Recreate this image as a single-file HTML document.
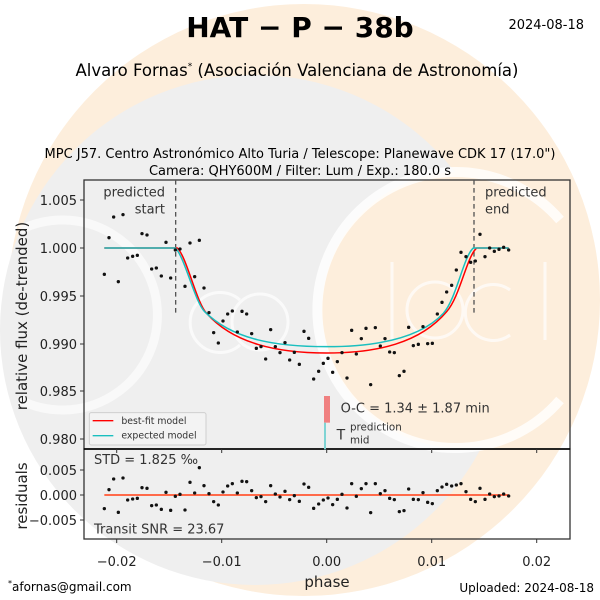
<!DOCTYPE html>
<html><head><meta charset="utf-8"><style>
body{margin:0;background:#fff}
svg{display:block;font-family:"DejaVu Sans","Liberation Sans",sans-serif}
</style></head><body>
<svg width="600" height="600" viewBox="0 0 600 600" xmlns="http://www.w3.org/2000/svg">
<rect width="600" height="600" fill="#fff"/>
<circle cx="304" cy="300" r="296" fill="#fdeedc"/>
<circle cx="255" cy="330" r="255" fill="#efefef"/>
<circle cx="460" cy="310" r="138" fill="#fdeedc"/>
<path d="M560 220 A138 138 0 1 0 560 400" fill="none" stroke="#fff" stroke-width="10" opacity="0.8"/>
<path d="M20 230 A95 95 0 1 1 20 400" fill="none" stroke="#fff" stroke-width="9" opacity="0.6"/>
<g fill="none" stroke="#fff" stroke-width="3" opacity="0.7">
<path d="M240 300 A30 30 0 1 0 240 345"/><circle cx="260" cy="322" r="28"/><path d="M392 262 V340"/><circle cx="435" cy="310" r="28"/><path d="M510 290 A28 28 0 1 0 510 335"/><path d="M545 262 V340"/>
</g>
<!-- titles -->
<text x="300" y="37" text-anchor="middle" font-size="28" font-weight="bold">HAT − P − 38b</text>
<text x="584" y="29" text-anchor="end" font-size="13">2024-08-18</text>
<text x="297" y="76" text-anchor="middle" font-size="16.5">Alvaro Fornas<tspan font-size="9" dy="-7">*</tspan><tspan dy="7">  (Asociación Valenciana de Astronomía)</tspan></text>
<text x="300" y="158" text-anchor="middle" font-size="13">MPC J57. Centro Astronómico Alto Turia / Telescope: Planewave CDK 17 (17.0")</text>
<text x="300" y="175" text-anchor="middle" font-size="13">Camera: QHY600M / Filter: Lum / Exp.: 180.0 s</text>
<!-- axes -->
<g stroke="#333" stroke-width="1.3" fill="none">
<rect x="84" y="180" width="486" height="269"/>
<rect x="84" y="449" width="486" height="90"/>
</g>
<line x1="84" y1="449" x2="570" y2="449" stroke="#000" stroke-width="1.6"/>
<g stroke="#333" stroke-width="1">
<line x1="80" y1="200" x2="84" y2="200"/><line x1="80" y1="248" x2="84" y2="248"/><line x1="80" y1="296" x2="84" y2="296"/><line x1="80" y1="344" x2="84" y2="344"/><line x1="80" y1="391" x2="84" y2="391"/><line x1="80" y1="439" x2="84" y2="439"/>
<line x1="80" y1="470" x2="84" y2="470"/><line x1="80" y1="495" x2="84" y2="495"/><line x1="80" y1="520" x2="84" y2="520"/>
<line x1="116.7" y1="539" x2="116.7" y2="543"/><line x1="221.7" y1="539" x2="221.7" y2="543"/><line x1="326.7" y1="539" x2="326.7" y2="543"/><line x1="431.7" y1="539" x2="431.7" y2="543"/><line x1="536.7" y1="539" x2="536.7" y2="543"/>
<line x1="116.7" y1="449" x2="116.7" y2="453"/><line x1="221.7" y1="449" x2="221.7" y2="453"/><line x1="326.7" y1="449" x2="326.7" y2="453"/><line x1="431.7" y1="449" x2="431.7" y2="453"/><line x1="536.7" y1="449" x2="536.7" y2="453"/>
</g>
<g font-size="13" text-anchor="end" fill="#222">
<text x="77" y="205">1.005</text><text x="77" y="253">1.000</text><text x="77" y="301">0.995</text><text x="77" y="349">0.990</text><text x="77" y="396">0.985</text><text x="77" y="444">0.980</text>
<text x="77" y="475">0.005</text><text x="77" y="500">0.000</text><text x="77" y="525">−0.005</text>
</g>
<g font-size="13" text-anchor="middle" fill="#222">
<text x="116.7" y="566">−0.02</text><text x="221.7" y="566">−0.01</text><text x="326.7" y="566">0.00</text><text x="431.7" y="566">0.01</text><text x="536.7" y="566">0.02</text>
</g>
<text x="327" y="587" text-anchor="middle" font-size="15" fill="#222">phase</text>
<text transform="translate(27,316) rotate(-90)" text-anchor="middle" font-size="15" fill="#222">relative flux (de-trended)</text>
<text transform="translate(27,496) rotate(-90)" text-anchor="middle" font-size="15" fill="#222">residuals</text>
<text x="8" y="591" font-size="12"><tspan font-size="8" dy="-5">*</tspan><tspan dy="5">afornas@gmail.com</tspan></text>
<text x="594" y="592" text-anchor="end" font-size="12">Uploaded: 2024-08-18</text>
<!-- plot in zoom coords -->
<g transform="translate(60,170) scale(0.33333)">
<g stroke="#555" stroke-width="4" stroke-dasharray="14,10"><line x1="347" y1="30" x2="347" y2="432"/><line x1="1242" y1="30" x2="1242" y2="432"/></g>
<g font-size="39" fill="#333"><text x="315" y="80" text-anchor="end">predicted</text><text x="315" y="130" text-anchor="end">start</text><text x="1275" y="80">predicted</text><text x="1275" y="130">end</text></g>
<path d="M133 234 L352 234 C380 260,410 400,440 430 C520 520,650 549,800 549 C950 549,1080 520,1160 425 C1200 380,1220 260,1250 234 L1346 234" fill="none" stroke="#f00" stroke-width="4.5"/>
<path d="M133 234 L346 234 C374 260,404 395,434 425 C520 510,650 530,800 530 C950 530,1080 505,1150 430 C1190 385,1210 260,1240 234 L1346 234" fill="none" stroke="#1abfbf" stroke-width="4.5"/>
<rect x="792" y="678" width="18" height="80" fill="#f08080"/>
<rect x="792" y="758" width="6" height="80" fill="#7fd4d4"/>
<text x="842" y="728" font-size="39" fill="#333">O-C = 1.34 ± 1.87 min</text>
<text x="830" y="808" font-size="42" fill="#333">T</text><text x="870" y="782" font-size="31" fill="#333">prediction</text><text x="870" y="820" font-size="31" fill="#333">mid</text>
<rect x="88" y="728" width="350" height="97" rx="6" fill="#f4f4f4" stroke="#ccc" stroke-width="3" opacity="0.9"/>
<line x1="98" y1="752" x2="160" y2="752" stroke="#f00" stroke-width="4"/>
<line x1="98" y1="797" x2="160" y2="797" stroke="#1abfbf" stroke-width="4"/>
<text x="184" y="762" font-size="28" fill="#333">best-fit model</text>
<text x="184" y="806" font-size="28" fill="#333">expected model</text>
<line x1="133" y1="975" x2="1346" y2="975" stroke="#ff6a4a" stroke-width="6"/>
<text x="102" y="882" font-size="39" fill="#333">STD = 1.825 ‰</text>
<text x="102" y="1090" font-size="39" fill="#333">Transit SNR = 23.67</text>
<g fill="#111">
<circle cx="133" cy="313" r="5"/><circle cx="147" cy="203" r="5"/><circle cx="161" cy="141" r="5"/><circle cx="175" cy="335" r="5"/><circle cx="189" cy="134" r="5"/><circle cx="203" cy="264" r="5"/><circle cx="218" cy="259" r="5"/><circle cx="232" cy="256" r="5"/><circle cx="246" cy="191" r="5"/><circle cx="261" cy="195" r="5"/><circle cx="275" cy="297" r="5"/><circle cx="289" cy="294" r="5"/><circle cx="304" cy="318" r="5"/><circle cx="318" cy="217" r="5"/><circle cx="332" cy="324" r="5"/><circle cx="346" cy="240" r="5"/><circle cx="360" cy="237" r="5"/><circle cx="375" cy="349" r="5"/><circle cx="390" cy="219" r="5"/><circle cx="404" cy="320" r="5"/><circle cx="418" cy="211" r="5"/><circle cx="432" cy="354" r="5"/><circle cx="447" cy="428" r="5"/><circle cx="461" cy="488" r="5"/><circle cx="475" cy="519" r="5"/><circle cx="489" cy="453" r="5"/><circle cx="503" cy="432" r="5"/><circle cx="517" cy="423" r="5"/><circle cx="532" cy="486" r="5"/><circle cx="546" cy="424" r="5"/><circle cx="560" cy="432" r="5"/><circle cx="575" cy="491" r="5"/><circle cx="589" cy="535" r="5"/><circle cx="603" cy="530" r="5"/><circle cx="617" cy="567" r="5"/><circle cx="632" cy="479" r="5"/><circle cx="646" cy="530" r="5"/><circle cx="660" cy="548" r="5"/><circle cx="675" cy="518" r="5"/><circle cx="689" cy="570" r="5"/><circle cx="703" cy="547" r="5"/><circle cx="718" cy="583" r="5"/><circle cx="732" cy="484" r="5"/><circle cx="746" cy="505" r="5"/><circle cx="761" cy="627" r="5"/><circle cx="776" cy="604" r="5"/><circle cx="790" cy="580" r="5"/><circle cx="804" cy="565" r="5"/><circle cx="818" cy="607" r="5"/><circle cx="832" cy="575" r="5"/><circle cx="846" cy="548" r="5"/><circle cx="861" cy="624" r="5"/><circle cx="875" cy="481" r="5"/><circle cx="889" cy="552" r="5"/><circle cx="904" cy="506" r="5"/><circle cx="918" cy="475" r="5"/><circle cx="932" cy="644" r="5"/><circle cx="946" cy="473" r="5"/><circle cx="961" cy="528" r="5"/><circle cx="975" cy="506" r="5"/><circle cx="989" cy="546" r="5"/><circle cx="1003" cy="548" r="5"/><circle cx="1018" cy="617" r="5"/><circle cx="1032" cy="604" r="5"/><circle cx="1046" cy="472" r="5"/><circle cx="1060" cy="527" r="5"/><circle cx="1075" cy="523" r="5"/><circle cx="1089" cy="470" r="5"/><circle cx="1103" cy="521" r="5"/><circle cx="1117" cy="520" r="5"/><circle cx="1132" cy="432" r="5"/><circle cx="1146" cy="397" r="5"/><circle cx="1160" cy="366" r="5"/><circle cx="1175" cy="346" r="5"/><circle cx="1189" cy="300" r="5"/><circle cx="1203" cy="247" r="5"/><circle cx="1218" cy="260" r="5"/><circle cx="1232" cy="277" r="5"/><circle cx="1246" cy="273" r="5"/><circle cx="1260" cy="193" r="5"/><circle cx="1275" cy="260" r="5"/><circle cx="1289" cy="234" r="5"/><circle cx="1303" cy="244" r="5"/><circle cx="1317" cy="238" r="5"/><circle cx="1331" cy="232" r="5"/><circle cx="1346" cy="240" r="5"/>
<circle cx="133" cy="1016" r="5"/><circle cx="147" cy="959" r="5"/><circle cx="161" cy="927" r="5"/><circle cx="175" cy="1027" r="5"/><circle cx="189" cy="924" r="5"/><circle cx="203" cy="990" r="5"/><circle cx="218" cy="987" r="5"/><circle cx="232" cy="985" r="5"/><circle cx="246" cy="953" r="5"/><circle cx="261" cy="955" r="5"/><circle cx="275" cy="1007" r="5"/><circle cx="289" cy="1005" r="5"/><circle cx="304" cy="1018" r="5"/><circle cx="318" cy="967" r="5"/><circle cx="332" cy="1021" r="5"/><circle cx="346" cy="979" r="5"/><circle cx="360" cy="973" r="5"/><circle cx="375" cy="1020" r="5"/><circle cx="390" cy="937" r="5"/><circle cx="404" cy="969" r="5"/><circle cx="418" cy="893" r="5"/><circle cx="432" cy="947" r="5"/><circle cx="447" cy="971" r="5"/><circle cx="461" cy="995" r="5"/><circle cx="475" cy="1005" r="5"/><circle cx="489" cy="966" r="5"/><circle cx="503" cy="948" r="5"/><circle cx="517" cy="941" r="5"/><circle cx="532" cy="969" r="5"/><circle cx="546" cy="934" r="5"/><circle cx="560" cy="935" r="5"/><circle cx="575" cy="962" r="5"/><circle cx="589" cy="983" r="5"/><circle cx="603" cy="980" r="5"/><circle cx="617" cy="995" r="5"/><circle cx="632" cy="947" r="5"/><circle cx="646" cy="972" r="5"/><circle cx="660" cy="981" r="5"/><circle cx="675" cy="964" r="5"/><circle cx="689" cy="989" r="5"/><circle cx="703" cy="977" r="5"/><circle cx="718" cy="994" r="5"/><circle cx="732" cy="942" r="5"/><circle cx="746" cy="952" r="5"/><circle cx="761" cy="1015" r="5"/><circle cx="776" cy="1002" r="5"/><circle cx="790" cy="990" r="5"/><circle cx="804" cy="984" r="5"/><circle cx="818" cy="1004" r="5"/><circle cx="832" cy="988" r="5"/><circle cx="846" cy="973" r="5"/><circle cx="861" cy="1014" r="5"/><circle cx="875" cy="941" r="5"/><circle cx="889" cy="979" r="5"/><circle cx="904" cy="956" r="5"/><circle cx="918" cy="941" r="5"/><circle cx="932" cy="1028" r="5"/><circle cx="946" cy="941" r="5"/><circle cx="961" cy="971" r="5"/><circle cx="975" cy="962" r="5"/><circle cx="989" cy="985" r="5"/><circle cx="1003" cy="989" r="5"/><circle cx="1018" cy="1025" r="5"/><circle cx="1032" cy="1022" r="5"/><circle cx="1046" cy="957" r="5"/><circle cx="1060" cy="988" r="5"/><circle cx="1075" cy="989" r="5"/><circle cx="1089" cy="968" r="5"/><circle cx="1103" cy="997" r="5"/><circle cx="1117" cy="1001" r="5"/><circle cx="1132" cy="962" r="5"/><circle cx="1146" cy="951" r="5"/><circle cx="1160" cy="943" r="5"/><circle cx="1175" cy="948" r="5"/><circle cx="1189" cy="945" r="5"/><circle cx="1203" cy="941" r="5"/><circle cx="1218" cy="965" r="5"/><circle cx="1232" cy="988" r="5"/><circle cx="1246" cy="995" r="5"/><circle cx="1260" cy="955" r="5"/><circle cx="1275" cy="988" r="5"/><circle cx="1289" cy="972" r="5"/><circle cx="1303" cy="980" r="5"/><circle cx="1317" cy="978" r="5"/><circle cx="1331" cy="972" r="5"/><circle cx="1346" cy="978" r="5"/>
</g>
</g>
</svg>
</body></html>
